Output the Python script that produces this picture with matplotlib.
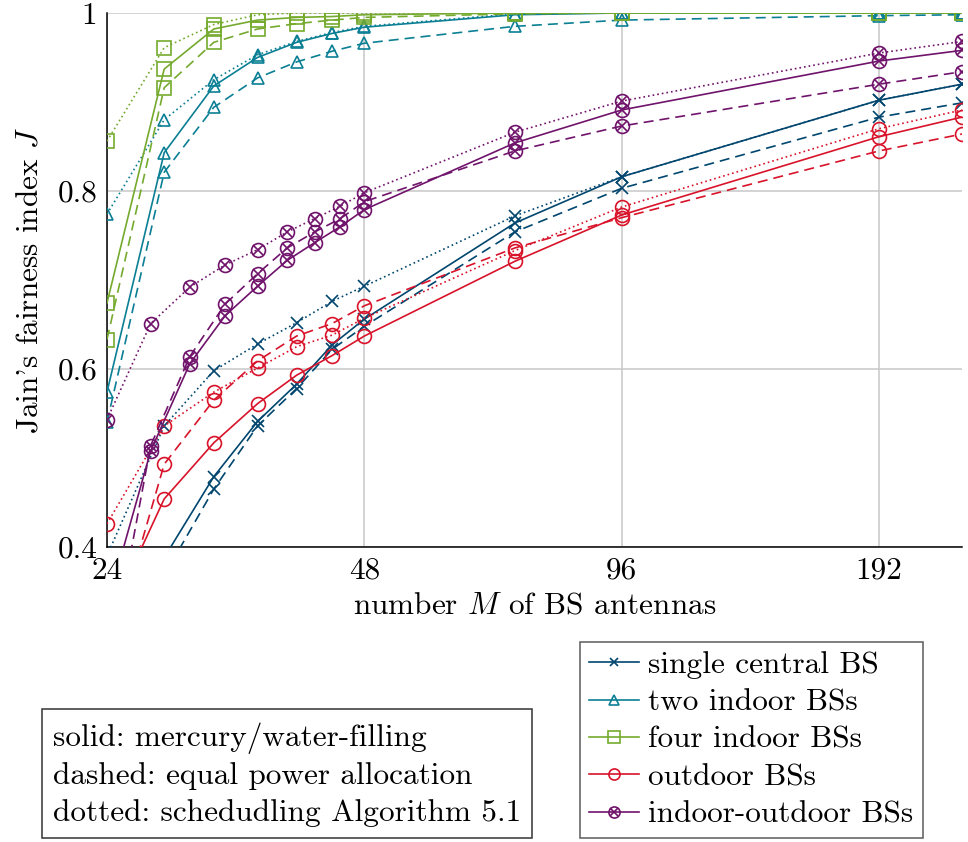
import numpy as np
import matplotlib
matplotlib.use("Agg")
import matplotlib.pyplot as plt
from matplotlib.lines import Line2D

plt.rcParams["font.family"] = "cmr10"
plt.rcParams["mathtext.fontset"] = "cm"
plt.rcParams["axes.formatter.use_mathtext"] = True
plt.rcParams["font.size"] = 22.5

# antenna counts
M_main = [24, 28, 32, 36, 40, 44, 48, 72, 96, 192, 240]
M_io = [24, 27, 30, 33, 36, 39, 42, 45, 48, 72, 96, 192, 240]

# single central BS
central_solid = [0.28, 0.388, 0.479, 0.541, 0.583, 0.627, 0.656, 0.764, 0.816, 0.902, 0.920]
central_dashed = [0.257, 0.368, 0.465, 0.536, 0.578, 0.622, 0.648, 0.754, 0.803, 0.883, 0.899]
central_dotted = [0.39, 0.536, 0.598, 0.628, 0.652, 0.676, 0.693, 0.772, 0.816, 0.902, 0.920]

# two indoor BSs
two_solid = [0.574, 0.843, 0.918, 0.950, 0.967, 0.977, 0.984, 0.998, 1.0, 1.0, 1.0]
two_dashed = [0.54, 0.821, 0.894, 0.927, 0.945, 0.957, 0.966, 0.985, 0.992, 0.997, 0.998]
two_dotted = [0.774, 0.880, 0.925, 0.953, 0.968, 0.978, 0.985, 0.999, 1.0, 1.0, 1.0]

# four indoor BSs
four_solid = [0.674, 0.937, 0.982, 0.992, 0.995, 0.996, 0.998, 1.0, 1.0, 1.0, 1.0]
four_dashed = [0.633, 0.916, 0.967, 0.982, 0.988, 0.992, 0.995, 0.999, 1.0, 1.0, 1.0]
four_dotted = [0.856, 0.961, 0.987, 0.998, 1.0, 1.0, 1.0, 1.0, 1.0, 1.0, 1.0]

# outdoor BSs
out_solid = [0.315, 0.454, 0.517, 0.561, 0.593, 0.615, 0.637, 0.721, 0.773, 0.861, 0.883]
out_dashed = [0.27, 0.493, 0.565, 0.609, 0.637, 0.651, 0.671, 0.736, 0.770, 0.845, 0.864]
out_dotted = [0.426, 0.536, 0.574, 0.601, 0.625, 0.638, 0.657, 0.733, 0.782, 0.870, 0.891]

# indoor-outdoor BSs
io_solid = [0.333, 0.508, 0.606, 0.660, 0.693, 0.722, 0.742, 0.760, 0.779, 0.854, 0.891, 0.946, 0.958]
io_dashed = [0.25, 0.514, 0.614, 0.673, 0.707, 0.736, 0.754, 0.769, 0.788, 0.845, 0.873, 0.920, 0.934]
io_dotted = [0.543, 0.651, 0.692, 0.717, 0.734, 0.754, 0.769, 0.783, 0.798, 0.866, 0.901, 0.955, 0.968]

labels = ["single central BS", "two indoor BSs", "four indoor BSs",
          "outdoor BSs", "indoor-outdoor BSs"]
colors = ["#00466e", "#0b7f94", "#75aa2e", "#d8132a", "#70136b"]
markers = ["x", "^", "s", "o", "o"]
msizes = [8, 9, 10, 10, 10]

series = [
    (M_main, central_solid, central_dashed, central_dotted),
    (M_main, two_solid, two_dashed, two_dotted),
    (M_main, four_solid, four_dashed, four_dotted),
    (M_main, out_solid, out_dashed, out_dotted),
    (M_io, io_solid, io_dashed, io_dotted),
]

styles = ["-", (0, (6, 3.6)), (0, (1, 1.8))]

fig = plt.figure(figsize=(9.68, 8.42), dpi=100)
ax = fig.add_axes([0.1105, 0.3504, 0.8833, 0.6342])

lw = 1.2
handles = []
for i, (M, s, d, o) in enumerate(series):
    for vals, ls in zip((s, d, o), styles):
        ax.plot(M, vals, color=colors[i], ls=ls, lw=lw, marker=markers[i],
                ms=msizes[i], mfc="none", mew=1.2, zorder=3)
        if i == 4:
            ax.plot(M, vals, ls="none", marker="x", ms=7, color=colors[i],
                    mew=1.2, zorder=3)
    h = Line2D([], [], color=colors[i], lw=lw, marker=markers[i],
               ms=msizes[i] * 0.8, mfc="none", mew=1.2)
    if i == 4:
        h = (h, Line2D([], [], ls="none", marker="x", ms=5.6,
                       color=colors[i], mew=1.2))
    handles.append(h)

ax.set_xscale("log", base=2)
ax.set_xlim(24, 240)
ax.set_ylim(0.4, 1.0)
ax.set_xticks([24, 48, 96, 192])
ax.set_xticklabels(["24", "48", "96", "192"])
ax.xaxis.set_minor_locator(matplotlib.ticker.NullLocator())
ax.set_yticks([0.4, 0.6, 0.8, 1.0])
ax.set_yticklabels(["0.4", "0.6", "0.8", "1"])
ax.tick_params(length=0, pad=7)
ax.grid(True, color="#c8c8c8", lw=1.1)
ax.set_axisbelow(True)
for sp in ["top", "right"]:
    ax.spines[sp].set_visible(False)
for sp in ["left", "bottom"]:
    ax.spines[sp].set_linewidth(1.1)

ax.set_xlabel("number $M$ of BS antennas", labelpad=5)
ax.set_ylabel("Jain's fairness index $J$", labelpad=10)

leg = fig.legend(handles, labels, loc="upper right",
                 bbox_to_anchor=(0.9535, 0.2375), frameon=True,
                 fancybox=False, edgecolor="#333333", numpoints=1,
                 handlelength=1.6, handletextpad=0.3, labelspacing=0.3,
                 borderpad=0.3, borderaxespad=0)
leg.get_frame().set_linewidth(1.1)

fig.text(0.0548, 0.0178, "solid: mercury/water-filling\n"
         "dashed: equal power allocation\n"
         "dotted: schedudling Algorithm 5.1",
         ha="left", va="bottom", linespacing=1.4,
         bbox=dict(boxstyle="square,pad=0.35", fc="white", ec="#333333", lw=1.1))

fig.savefig("out.png", dpi=100)
